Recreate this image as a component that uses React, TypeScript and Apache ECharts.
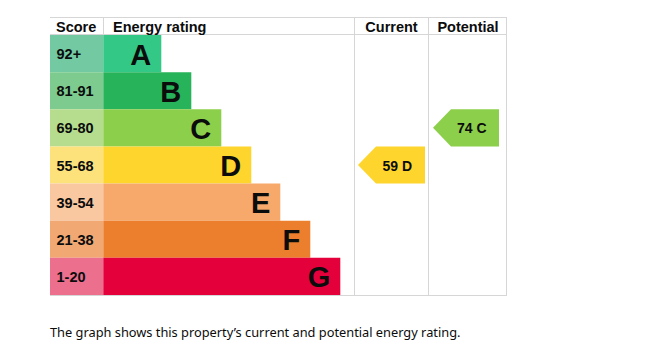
import React, { useEffect, useRef } from "react";
import * as echarts from "echarts";

// ---- data ----
const bands = ["A", "B", "C", "D", "E", "F", "G"];
const scoreRanges = ["92+", "81-91", "69-80", "55-68", "39-54", "21-38", "1-20"];
const bandMin = [92, 81, 69, 55, 39, 21, 1];
const barLengths = [58, 88, 118, 148, 177, 207, 237];
const columns = ["Current", "Potential"];
const ratings = [59, 74];
const footerText = "The graph shows this property\u2019s current and potential energy rating.";

// ---- styles ----
const barColors = ["#33c886", "#27b35a", "#8ccf4a", "#fed52c", "#f6a96b", "#ec7f2e", "#e4003b"];
const scoreColors = ["#72c9a2", "#7dcb8e", "#b5dd8d", "#fde27c", "#f9c7a0", "#f1a873", "#ec6f8e"];

const FONT = '"Liberation Sans", Arial, Helvetica, sans-serif';
const SCORE_W = 53.3;
const ARROWS = [
  [308, 375],
  [383, 449],
];
const TIP = 18;
const LINE = "#d6d6d6";

export default function App() {
  const ref = useRef<HTMLDivElement>(null);
  useEffect(() => {
    if (!ref.current) return;
    const chart = echarts.init(ref.current, null, { renderer: "svg" });

    const rowData = bands.map((b, i) => [i, barLengths[i]]);
    const arrowData = ratings.map((r, c) => {
      const idx = bandMin.findIndex((m) => r >= m);
      return [c, idx, r];
    });

    const option: any = {
      animation: false,
      grid: { left: 50, right: 152, top: 35, bottom: 69 },
      xAxis: { type: "value", min: 0, max: 457, show: false },
      yAxis: { type: "category", data: bands, inverse: true, show: false },
      series: [
        {
          type: "custom",
          data: rowData,
          encode: { x: 1, y: 0 },
          renderItem: (params: any, api: any) => {
            const idx = api.value(0);
            const len = api.value(1);
            const p0 = api.coord([0, idx]);
            const h = api.size([0, 1])[1];
            const xs = api.coord([SCORE_W, idx])[0];
            const xe = api.coord([SCORE_W + len, idx])[0];
            const yTop = p0[1] - h / 2;
            return {
              type: "group",
              children: [
                { type: "rect", shape: { x: p0[0], y: yTop, width: xs - p0[0], height: h }, style: { fill: scoreColors[idx] } },
                { type: "rect", shape: { x: xs, y: yTop, width: xe - xs, height: h }, style: { fill: barColors[idx] } },
                {
                  type: "text",
                  style: {
                    text: scoreRanges[idx], x: p0[0] + 6.5, y: p0[1] + 0.5,
                    fill: "#0b0c0c", font: `bold 14.5px ${FONT}`, align: "left", verticalAlign: "middle",
                  },
                },
                {
                  type: "text",
                  style: {
                    text: bands[idx], x: xe - 10, y: p0[1] + 1,
                    fill: "#0b0c0c", font: `bold 29px ${FONT}`, align: "right", verticalAlign: "middle",
                  },
                },
              ],
            };
          },
        },
        {
          type: "custom",
          data: arrowData,
          encode: { x: 2, y: 1 },
          renderItem: (params: any, api: any) => {
            const col = api.value(0);
            const idx = api.value(1);
            const r = api.value(2);
            const h = api.size([0, 1])[1];
            const a = api.coord([ARROWS[col][0], idx]);
            const b = api.coord([ARROWS[col][1], idx]);
            const yc = a[1];
            const yT = yc - h / 2;
            const yB = yc + h / 2;
            const cx = (a[0] + b[0]) / 2;
            return {
              type: "group",
              children: [
                {
                  type: "polygon",
                  shape: { points: [[a[0], yc], [a[0] + TIP, yT], [b[0], yT], [b[0], yB], [a[0] + TIP, yB]] },
                  style: { fill: barColors[idx] },
                },
                {
                  type: "text",
                  style: {
                    text: String(r), x: cx + 6.5, y: yc + 0.5,
                    fill: "#0b0c0c", font: `bold 14px ${FONT}`, align: "right", verticalAlign: "middle",
                  },
                },
                {
                  type: "text",
                  style: {
                    text: bands[idx], x: cx + 10.5, y: yc + 0.5,
                    fill: "#0b0c0c", font: `bold 14px ${FONT}`, align: "left", verticalAlign: "middle",
                  },
                },
              ],
            };
          },
        },
      ],
      graphic: [
        { type: "line", shape: { x1: 50, y1: 17.5, x2: 507, y2: 17.5 }, style: { stroke: LINE, lineWidth: 1 } },
        { type: "line", shape: { x1: 50, y1: 34.5, x2: 507, y2: 34.5 }, style: { stroke: LINE, lineWidth: 1 } },
        { type: "line", shape: { x1: 50, y1: 295.5, x2: 507, y2: 295.5 }, style: { stroke: LINE, lineWidth: 1 } },
        { type: "line", shape: { x1: 103.5, y1: 17, x2: 103.5, y2: 35 }, style: { stroke: LINE, lineWidth: 1 } },
        { type: "line", shape: { x1: 354.5, y1: 17, x2: 354.5, y2: 296 }, style: { stroke: LINE, lineWidth: 1 } },
        { type: "line", shape: { x1: 428.5, y1: 17, x2: 428.5, y2: 296 }, style: { stroke: LINE, lineWidth: 1 } },
        { type: "line", shape: { x1: 506.5, y1: 17, x2: 506.5, y2: 296 }, style: { stroke: LINE, lineWidth: 1 } },
        { type: "text", x: 56, y: 26.5, style: { text: "Score", fill: "#0b0c0c", font: `bold 14.5px ${FONT}`, align: "left", verticalAlign: "middle" } },
        { type: "text", x: 113, y: 26.5, style: { text: "Energy rating", fill: "#0b0c0c", font: `bold 14.5px ${FONT}`, align: "left", verticalAlign: "middle" } },
        { type: "text", x: 391.5, y: 26.5, style: { text: columns[0], fill: "#0b0c0c", font: `bold 14.5px ${FONT}`, align: "center", verticalAlign: "middle" } },
        { type: "text", x: 468, y: 26.5, style: { text: columns[1], fill: "#0b0c0c", font: `bold 14.5px ${FONT}`, align: "center", verticalAlign: "middle" } },
        { type: "text", x: 50, y: 332, style: { text: footerText, fill: "#0b0c0c", font: `12.8px "Noto Sans", sans-serif`, align: "left", verticalAlign: "middle" } },
      ],
    };
    chart.setOption(option);
    return () => chart.dispose();
  }, []);
  return <div ref={ref} style={{ position: "fixed", left: 0, top: 0, width: 659, height: 364, background: "#fff" }} />;
}
